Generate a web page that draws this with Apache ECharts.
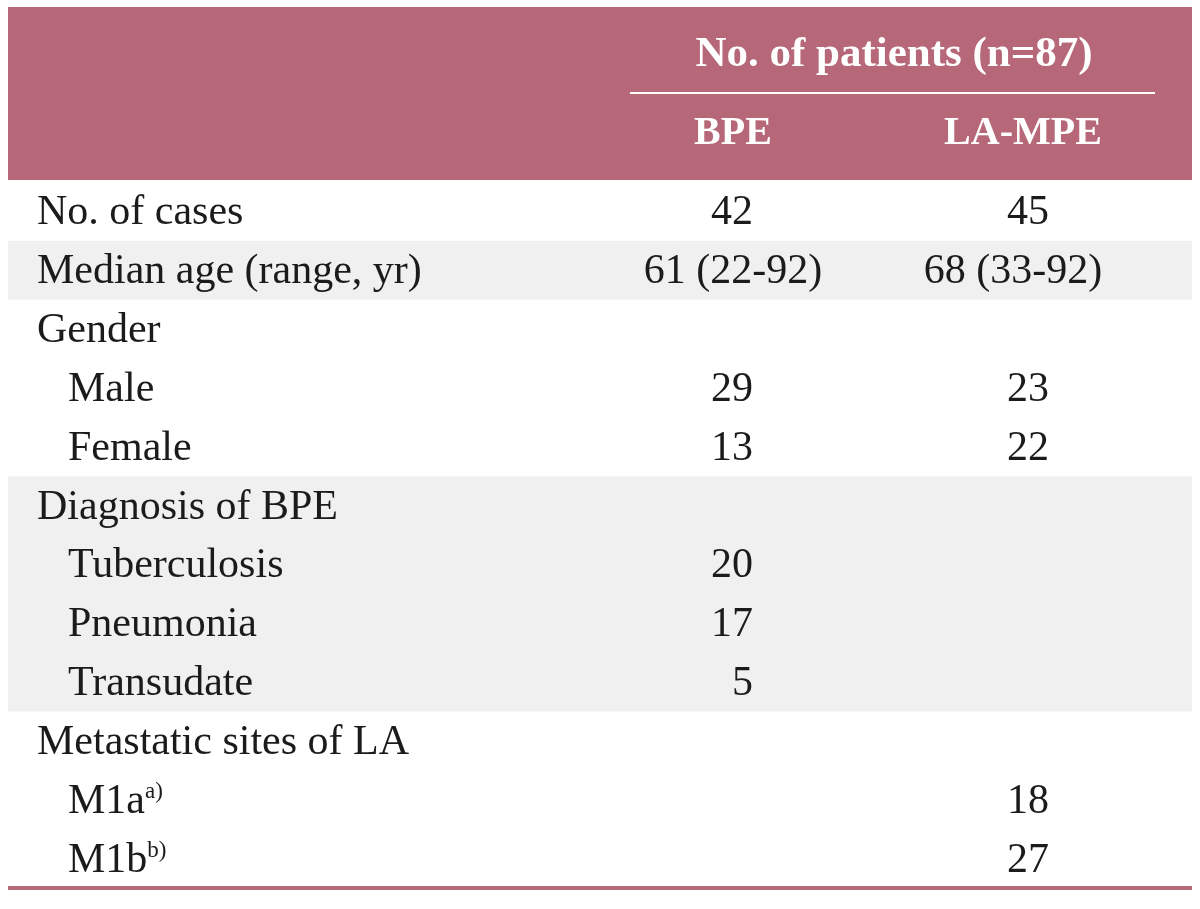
<!DOCTYPE html>
<html><head><meta charset="utf-8">
<script src="https://cdn.jsdelivr.net/npm/echarts@6/dist/echarts.min.js"></script>
<style>html,body{margin:0;padding:0;background:#fff}#c{width:1200px;height:909px}</style>
</head><body><div id="c"></div>
<script>
const rowLabels = ['No. of cases','Median age (range, yr)','Gender','Male','Female','Diagnosis of BPE','Tuberculosis','Pneumonia','Transudate','Metastatic sites of LA','M1a','M1b'];
const rowSup = ['','','','','','','','','','','a)','b)'];
const rowIndent = [0,0,0,1,1,0,1,1,1,0,1,1];
const rowShaded = [0,1,0,0,0,1,1,1,1,0,0,0];
const bpeValues = ['42','61 (22-92)','','29','13','','20','17','5','','',''];
const lampeValues = ['45','68 (33-92)','','23','22','','','','','','18','27'];
const headerTitle = 'No. of patients (n=87)';
const columnNames = ['BPE','LA-MPE'];

const FONT = '"Liberation Serif", "DejaVu Serif", serif';
const TXT = '#1c1a1b';
const PINK = '#b66778';
const GREY = '#eff0ef';

const chart = echarts.init(document.getElementById('c'));
chart.setOption({
  animation: false,
  grid: {left: 0, right: 0, top: 182, bottom: 21},
  xAxis: {type: 'value', min: 0, max: 1200, show: false},
  yAxis: {type: 'category', data: rowLabels, inverse: true, show: false},
  graphic: [
    {type: 'rect', shape: {x: 8, y: 7, width: 1184, height: 173}, style: {fill: PINK}},
    {type: 'text', x: 894, y: 55, style: {text: headerTitle, font: 'bold 43px ' + FONT, fill: '#fff', align: 'center', verticalAlign: 'middle'}},
    {type: 'line', shape: {x1: 630, y1: 93, x2: 1155, y2: 93}, style: {stroke: '#fff', lineWidth: 2}},
    {type: 'text', x: 733, y: 134, style: {text: columnNames[0], font: 'bold 40px ' + FONT, fill: '#fff', align: 'center', verticalAlign: 'middle'}},
    {type: 'text', x: 1023, y: 134, style: {text: columnNames[1], font: 'bold 40px ' + FONT, fill: '#fff', align: 'center', verticalAlign: 'middle'}},
    {type: 'rect', shape: {x: 8, y: 886, width: 1184, height: 4}, style: {fill: PINK}}
  ],
  series: [{
    type: 'custom',
    coordinateSystem: 'cartesian2d',
    data: rowLabels.map((_, i) => [0, i]),
    renderItem: function (params, api) {
      const i = params.dataIndex;
      const c = api.coord([0, i]);
      const band = api.size([0, 1])[1];
      const y = c[1];
      const children = [];
      if (rowShaded[i]) {
        const x0 = api.coord([8, i])[0], x1 = api.coord([1192, i])[0];
        children.push({type: 'rect', shape: {x: x0, y: y - band / 2, width: x1 - x0, height: band}, style: {fill: GREY}});
      }
      const lx = api.coord([rowIndent[i] ? 68 : 37, i])[0];
      const labelText = rowSup[i] ? '{m|' + rowLabels[i] + '}{s|' + rowSup[i] + '}' : '{m|' + rowLabels[i] + '}';
      children.push({type: 'text', x: lx, y: y + 2, style: {
        text: labelText, align: 'left', verticalAlign: 'middle', fill: TXT,
        rich: {m: {font: '42px ' + FONT, fill: TXT}, s: {font: '23px ' + FONT, fill: TXT, verticalAlign: 'top', padding: [0, 0, 16, 0]}}
      }});
      const cols = [[bpeValues, 733, 753], [lampeValues, 1013, 1049]];
      cols.forEach(([vals, cx, rx]) => {
        const v = vals[i];
        if (!v) return;
        const isRange = v.indexOf('(') >= 0;
        const px = api.coord([isRange ? cx : rx, i])[0];
        children.push({type: 'text', x: px, y: y + 2, style: {text: v, font: '42px ' + FONT, fill: TXT, align: isRange ? 'center' : 'right', verticalAlign: 'middle'}});
      });
      return {type: 'group', children: children};
    }
  }]
});
</script></body></html>
